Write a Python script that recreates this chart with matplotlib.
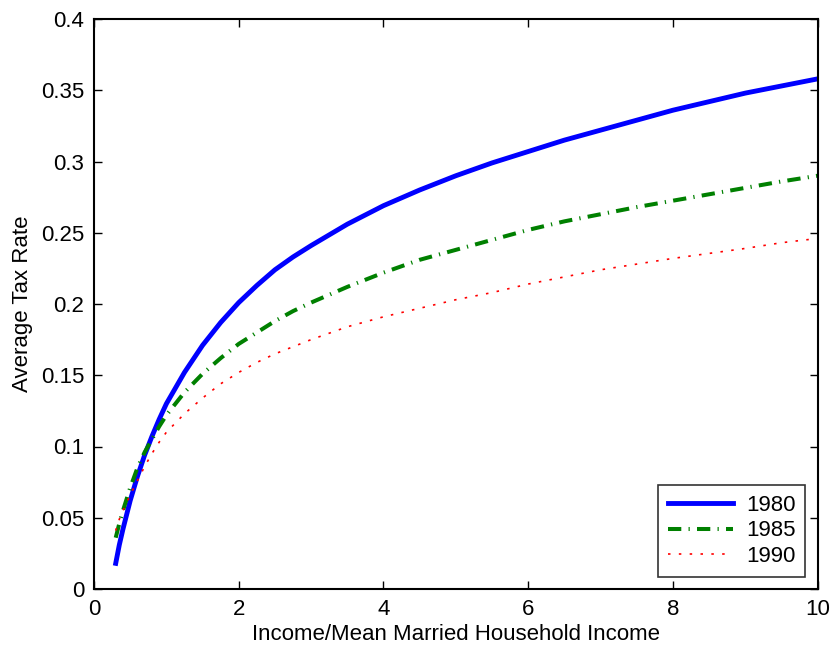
import matplotlib
matplotlib.use("Agg")
import matplotlib.pyplot as plt

x = [0.3, 0.35, 0.4, 0.5, 0.6, 0.7, 0.8, 0.9, 1.0, 1.25, 1.5, 1.75, 2.0, 2.25, 2.5,
     2.75, 3.0, 3.5, 4.0, 4.5, 5.0, 5.5, 6.0, 6.5, 7.0, 7.5, 8.0, 8.5, 9.0, 9.5, 10.0]
rate_1980 = [0.018, 0.031, 0.042, 0.062, 0.079, 0.094, 0.107, 0.119, 0.130, 0.152,
             0.171, 0.187, 0.201, 0.213, 0.224, 0.233, 0.241, 0.256, 0.269, 0.280,
             0.290, 0.299, 0.307, 0.315, 0.322, 0.329, 0.336, 0.342, 0.348, 0.353,
             0.358]
rate_1985 = [0.036, 0.046, 0.055, 0.071, 0.085, 0.096, 0.105, 0.114, 0.122, 0.138,
             0.151, 0.162, 0.172, 0.180, 0.188, 0.195, 0.201, 0.212, 0.222, 0.231,
             0.238, 0.245, 0.252, 0.258, 0.263, 0.268, 0.2725, 0.277, 0.2815, 0.286,
             0.290]
rate_1990 = [0.041, 0.049, 0.055, 0.066, 0.076, 0.086, 0.095, 0.103, 0.110, 0.123,
             0.134, 0.144, 0.152, 0.159, 0.165, 0.170, 0.175, 0.184, 0.191, 0.197,
             0.203, 0.208, 0.214, 0.219, 0.224, 0.228, 0.232, 0.2355, 0.239, 0.243,
             0.246]
labels = ["1980", "1985", "1990"]
x_ticks = [0, 2, 4, 6, 8, 10]
y_ticks = [0, 0.05, 0.1, 0.15, 0.2, 0.25, 0.3, 0.35, 0.4]
y_tick_labels = ['0', '0.05', '0.1', '0.15', '0.2', '0.25', '0.3', '0.35', '0.4']

plt.rcParams['font.family'] = ['Liberation Sans', 'DejaVu Sans']
fig = plt.figure(figsize=(8.35, 6.53), dpi=100)
ax = fig.add_axes([94/835, 1-589/653, (817.7-94)/835, (589-19)/653])

ax.plot(x, rate_1980, color='#0000ff', lw=3.5, linestyle='-', label=labels[0])
ax.plot(x, rate_1985, color='#008000', lw=2.9, linestyle=(0, (3.3, 1.8, 0.3, 1.8)), label=labels[1])
ax.plot(x, rate_1990, color='#ff0000', lw=1.2, linestyle=(0, (1.5, 5.0)), label=labels[2])

ax.set_xlim(0, 10)
ax.set_ylim(0, 0.4)
ax.set_xticks(x_ticks)
ax.set_yticks(y_ticks)
ax.set_xticklabels([str(t) for t in x_ticks])
ax.set_yticklabels(y_tick_labels)
ax.tick_params(direction='in', length=6, width=1, top=True, right=True, labelsize=16, pad=7)
for s in ax.spines.values():
    s.set_linewidth(1.5)
ax.set_xlabel('Income/Mean Married Household Income', fontsize=16, labelpad=3)
ax.set_ylabel('Average Tax Rate', fontsize=16, labelpad=6)

leg = ax.legend(loc='lower right', fontsize=16, frameon=True, fancybox=False,
                edgecolor='black', handlelength=2.9, borderaxespad=0.55,
                labelspacing=0.2, handletextpad=0.6, borderpad=0.45)
leg.get_frame().set_linewidth(1.2)

fig.savefig('out.png', dpi=100)
